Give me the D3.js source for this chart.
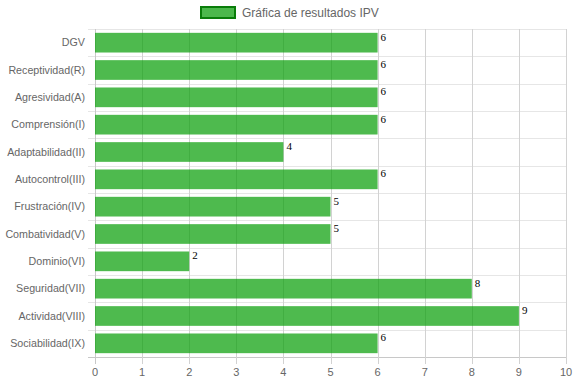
<!DOCTYPE html>
<html>
<head>
<meta charset="utf-8">
<script src="https://cdn.jsdelivr.net/npm/d3@7"></script>
<style>
  body { margin: 0; background: #fff; }
  svg { display: block; }
</style>
</head>
<body>
<svg id="chart" width="574" height="383"></svg>
<script>
const categories = ["DGV", "Receptividad(R)", "Agresividad(A)", "Comprensión(I)", "Adaptabilidad(II)",
    "Autocontrol(III)", "Frustración(IV)", "Combatividad(V)", "Dominio(VI)", "Seguridad(VII)",
    "Actividad(VIII)", "Sociabilidad(IX)"];
const values = [6, 6, 6, 6, 4, 6, 5, 5, 2, 8, 9, 6];
const xTicks = [0, 1, 2, 3, 4, 5, 6, 7, 8, 9, 10];
const seriesName = "Gráfica de resultados IPV";

const svg = d3.select("#chart");
const font = "Liberation Sans";
const serifFont = "Liberation Serif";
const plotLeft = 95, plotRight = 566, plotTop = 29, plotBottom = 357;

const x = d3.scaleLinear().domain([0, 10]).range([plotLeft, plotRight]);
const y = d3.scaleBand().domain(categories).range([plotTop, plotBottom]);

const grid = svg.append("g");

// horizontal grid lines on category boundaries
const bounds = categories.map(c => y(c)).concat([plotBottom]);
grid.selectAll(".hline")
    .data(bounds)
    .enter().append("line")
    .attr("x1", plotLeft - 7).attr("x2", plotRight)
    .attr("y1", d => Math.round(d) + 0.5).attr("y2", d => Math.round(d) + 0.5)
    .attr("stroke", d => d === plotBottom ? "#c8c8c8" : "#e6e6e6")
    .attr("stroke-width", 1);

// vertical grid lines
grid.selectAll(".vline")
    .data(xTicks)
    .enter().append("line")
    .attr("x1", d => Math.round(x(d)) + 0.5).attr("x2", d => Math.round(x(d)) + 0.5)
    .attr("y1", plotTop).attr("y2", plotBottom + 7)
    .attr("stroke", d => d === 0 ? "#c8c8c8" : "#d2d2d2")
    .attr("stroke-width", 1);

const barH = y.bandwidth() * 0.72;

svg.selectAll(".bar")
    .data(values)
    .enter().append("rect")
    .attr("x", x(0))
    .attr("y", (d, i) => y(categories[i]) + (y.bandwidth() - barH) / 2)
    .attr("width", d => x(d) - x(0))
    .attr("height", barH)
    .attr("fill", "#0aa00a")
    .attr("fill-opacity", 0.72);

svg.selectAll(".val")
    .data(values)
    .enter().append("text")
    .attr("x", d => x(d) + 3)
    .attr("y", (d, i) => y(categories[i]) + (y.bandwidth() - barH) / 2 + 8)
    .style("font-family", serifFont)
    .style("font-size", "11px")
    .attr("fill", "#000")
    .text(d => d);

// y labels
svg.selectAll(".ylab")
    .data(categories)
    .enter().append("text")
    .attr("x", plotLeft - 10)
    .attr("y", d => y(d) + y.bandwidth() / 2)
    .attr("dy", "0.35em")
    .attr("text-anchor", "end")
    .style("font-family", font)
    .style("font-size", "10.7px")
    .attr("fill", "#666")
    .text(d => d);

// x labels
svg.selectAll(".xlab")
    .data(xTicks)
    .enter().append("text")
    .attr("x", d => x(d))
    .attr("y", plotBottom + 19)
    .attr("text-anchor", "middle")
    .style("font-family", font)
    .style("font-size", "11px")
    .attr("fill", "#666")
    .text(d => d);

// legend
const legend = svg.append("g");
legend.append("rect")
    .attr("x", 201).attr("y", 7).attr("width", 34).attr("height", 11)
    .attr("fill", "#4cb84c")
    .attr("stroke", "#0a7d0a")
    .attr("stroke-width", 2);
legend.append("text")
    .attr("x", 242).attr("y", 12.5)
    .attr("dy", "0.35em")
    .style("font-family", font)
    .style("font-size", "12px")
    .attr("fill", "#666")
    .text(seriesName);
</script>
</body>
</html>
